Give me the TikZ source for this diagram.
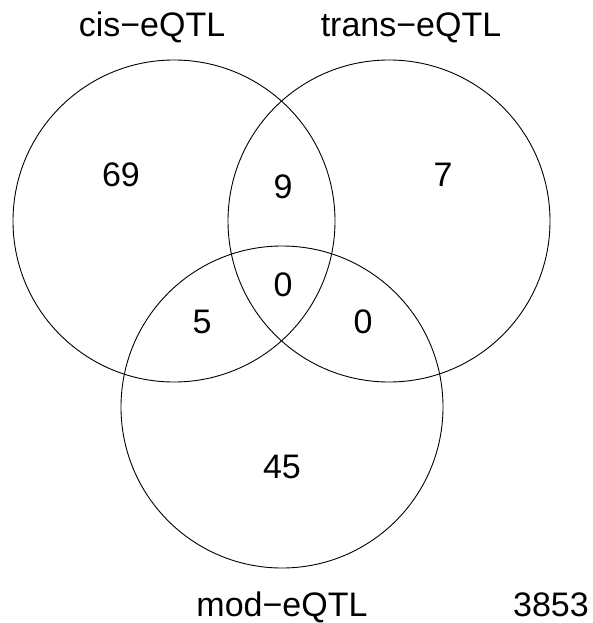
\documentclass[tikz,border=0pt]{standalone}
\usepackage{fontspec}
\setmainfont{Liberation Sans}
\begin{document}
\begin{tikzpicture}[x=1pt,y=-1pt,
  setcircle/.style={draw=black,line width=0.9pt},
  count/.style={inner sep=0pt,font=\fontsize{34}{40}\selectfont},
  setlabel/.style={inner sep=0pt,anchor=base,font=\fontsize{34}{40}\selectfont}]
\useasboundingbox (0,0) rectangle (592,623);
% the three sets
\draw[setcircle] (174,221) circle (161);
\draw[setcircle] (389,221) circle (161);
\draw[setcircle] (282,407) circle (161);
% region counts
\node[count] (n69) at (121,175) {69};
\node[count] (n9) at (283,187) {9};
\node[count] (n7) at (443,175) {7};
\node[count] (n5) at (202,322) {5};
\node[count] (n0c) at (283,285) {0};
\node[count] (n0r) at (363,322) {0};
\node[count] (n45) at (282,467) {45};
% set names and the count outside all sets
\node[setlabel] (cis) at (152,37) {cis−eQTL};
\node[setlabel] (trans) at (411,37) {trans−eQTL};
\node[setlabel] (mod) at (282,616) {mod−eQTL};
\node[setlabel] (rest) at (551,616) {3853};
\end{tikzpicture}
\end{document}
